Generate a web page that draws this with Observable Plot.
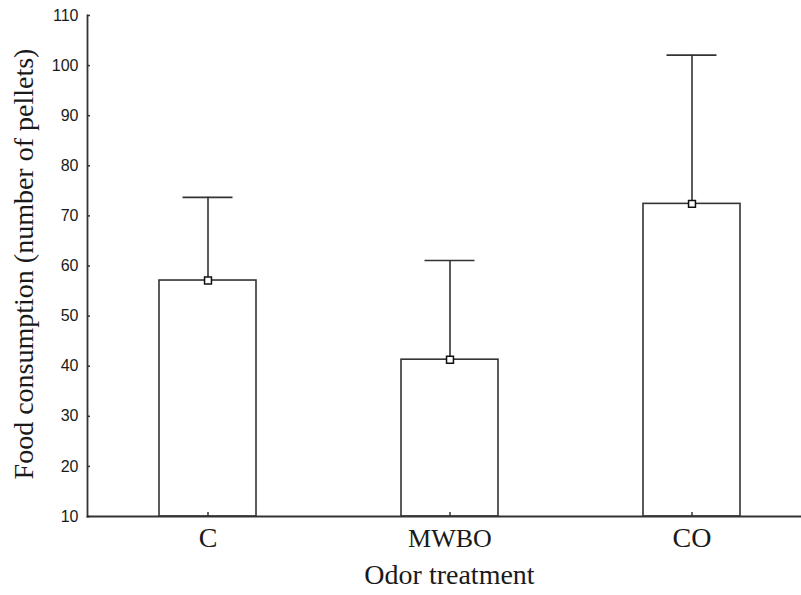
<!DOCTYPE html>
<html>
<head>
<meta charset="utf-8">
<script src="https://cdn.jsdelivr.net/npm/d3@7"></script>
<script src="https://cdn.jsdelivr.net/npm/@observablehq/plot@0.6"></script>
<style>
  html, body { margin: 0; padding: 0; background: #fff; }
</style>
</head>
<body>
<div id="chart"></div>
<script>
const categories = ["C", "MWBO", "CO"];
const means = [57.1, 41.3, 72.4];
const upper = [73.7, 61.1, 102.1];
const yTicks = [10, 20, 30, 40, 50, 60, 70, 80, 90, 100, 110];
const yDomain = [10, 110];
const yLabel = "Food consumption (number of pellets)";
const xLabel = "Odor treatment";

const data = categories.map((c, i) => ({cat: c, mean: means[i], up: upper[i], base: yDomain[0]}));

const ink = "#333";
const textInk = "#1a1a1a";

const chart = Plot.plot({
  width: 801,
  height: 595,
  marginLeft: 87,
  marginRight: 0,
  marginTop: 15,
  marginBottom: 79,
  style: {background: "#fff", overflow: "visible"},
  x: {domain: categories, range: [86, 812], paddingInner: 0.6, paddingOuter: 0.3, align: 0.5, axis: null},
  y: {domain: yDomain, axis: null},
  marks: [
    Plot.barY(data, {x: "cat", y1: "base", y2: "mean", fill: "#fff", stroke: ink, strokeWidth: 1.6}),
    Plot.ruleX(data, {x: "cat", y1: "mean", y2: "up", stroke: ink, strokeWidth: 1.6}),
    Plot.tickY(data, {x: "cat", y: "up", stroke: ink, strokeWidth: 1.6, insetLeft: 23.5, insetRight: 23.5}),
    Plot.dot(data, {x: "cat", y: "mean", symbol: "square", r: 3.9, fill: "#fff", stroke: "#111", strokeWidth: 1.5}),
    Plot.frame({anchor: "left", stroke: ink, strokeWidth: 1.8}),
    Plot.frame({anchor: "bottom", stroke: ink, strokeWidth: 1.8}),
    Plot.axisY({ticks: yTicks, tickSize: -3, tickPadding: 12, stroke: ink, strokeWidth: 1.5,
      fontSize: 16, fontFamily: "Liberation Sans, Arial, sans-serif", fill: textInk, label: null}),
    Plot.axisX({tickSize: -4, tickFormat: () => "", stroke: ink, strokeWidth: 1.5, label: null}),
    Plot.text(data.filter(d => d.cat !== "MWBO"), {x: "cat", y: "base", text: "cat", dy: 22, fontSize: 28,
      fontFamily: "Liberation Serif, Times New Roman, serif", fill: textInk}),
    Plot.text(data.filter(d => d.cat === "MWBO"), {x: "cat", y: "base", text: "cat", dy: 22, fontSize: 26,
      fontFamily: "Liberation Serif, Times New Roman, serif", fill: textInk, letterSpacing: "-2.5px"}),
    Plot.text([xLabel], {frameAnchor: "bottom", dy: 67, dx: 5, fontSize: 28,
      fontFamily: "Liberation Serif, Times New Roman, serif", fill: textInk}),
    Plot.text([yLabel], {frameAnchor: "left", textAnchor: "middle", dx: -63, dy: -2, rotate: -90, fontSize: 28,
      fontFamily: "Liberation Serif, Times New Roman, serif", fill: textInk})
  ]
});
document.getElementById("chart").appendChild(chart);
</script>
</body>
</html>
